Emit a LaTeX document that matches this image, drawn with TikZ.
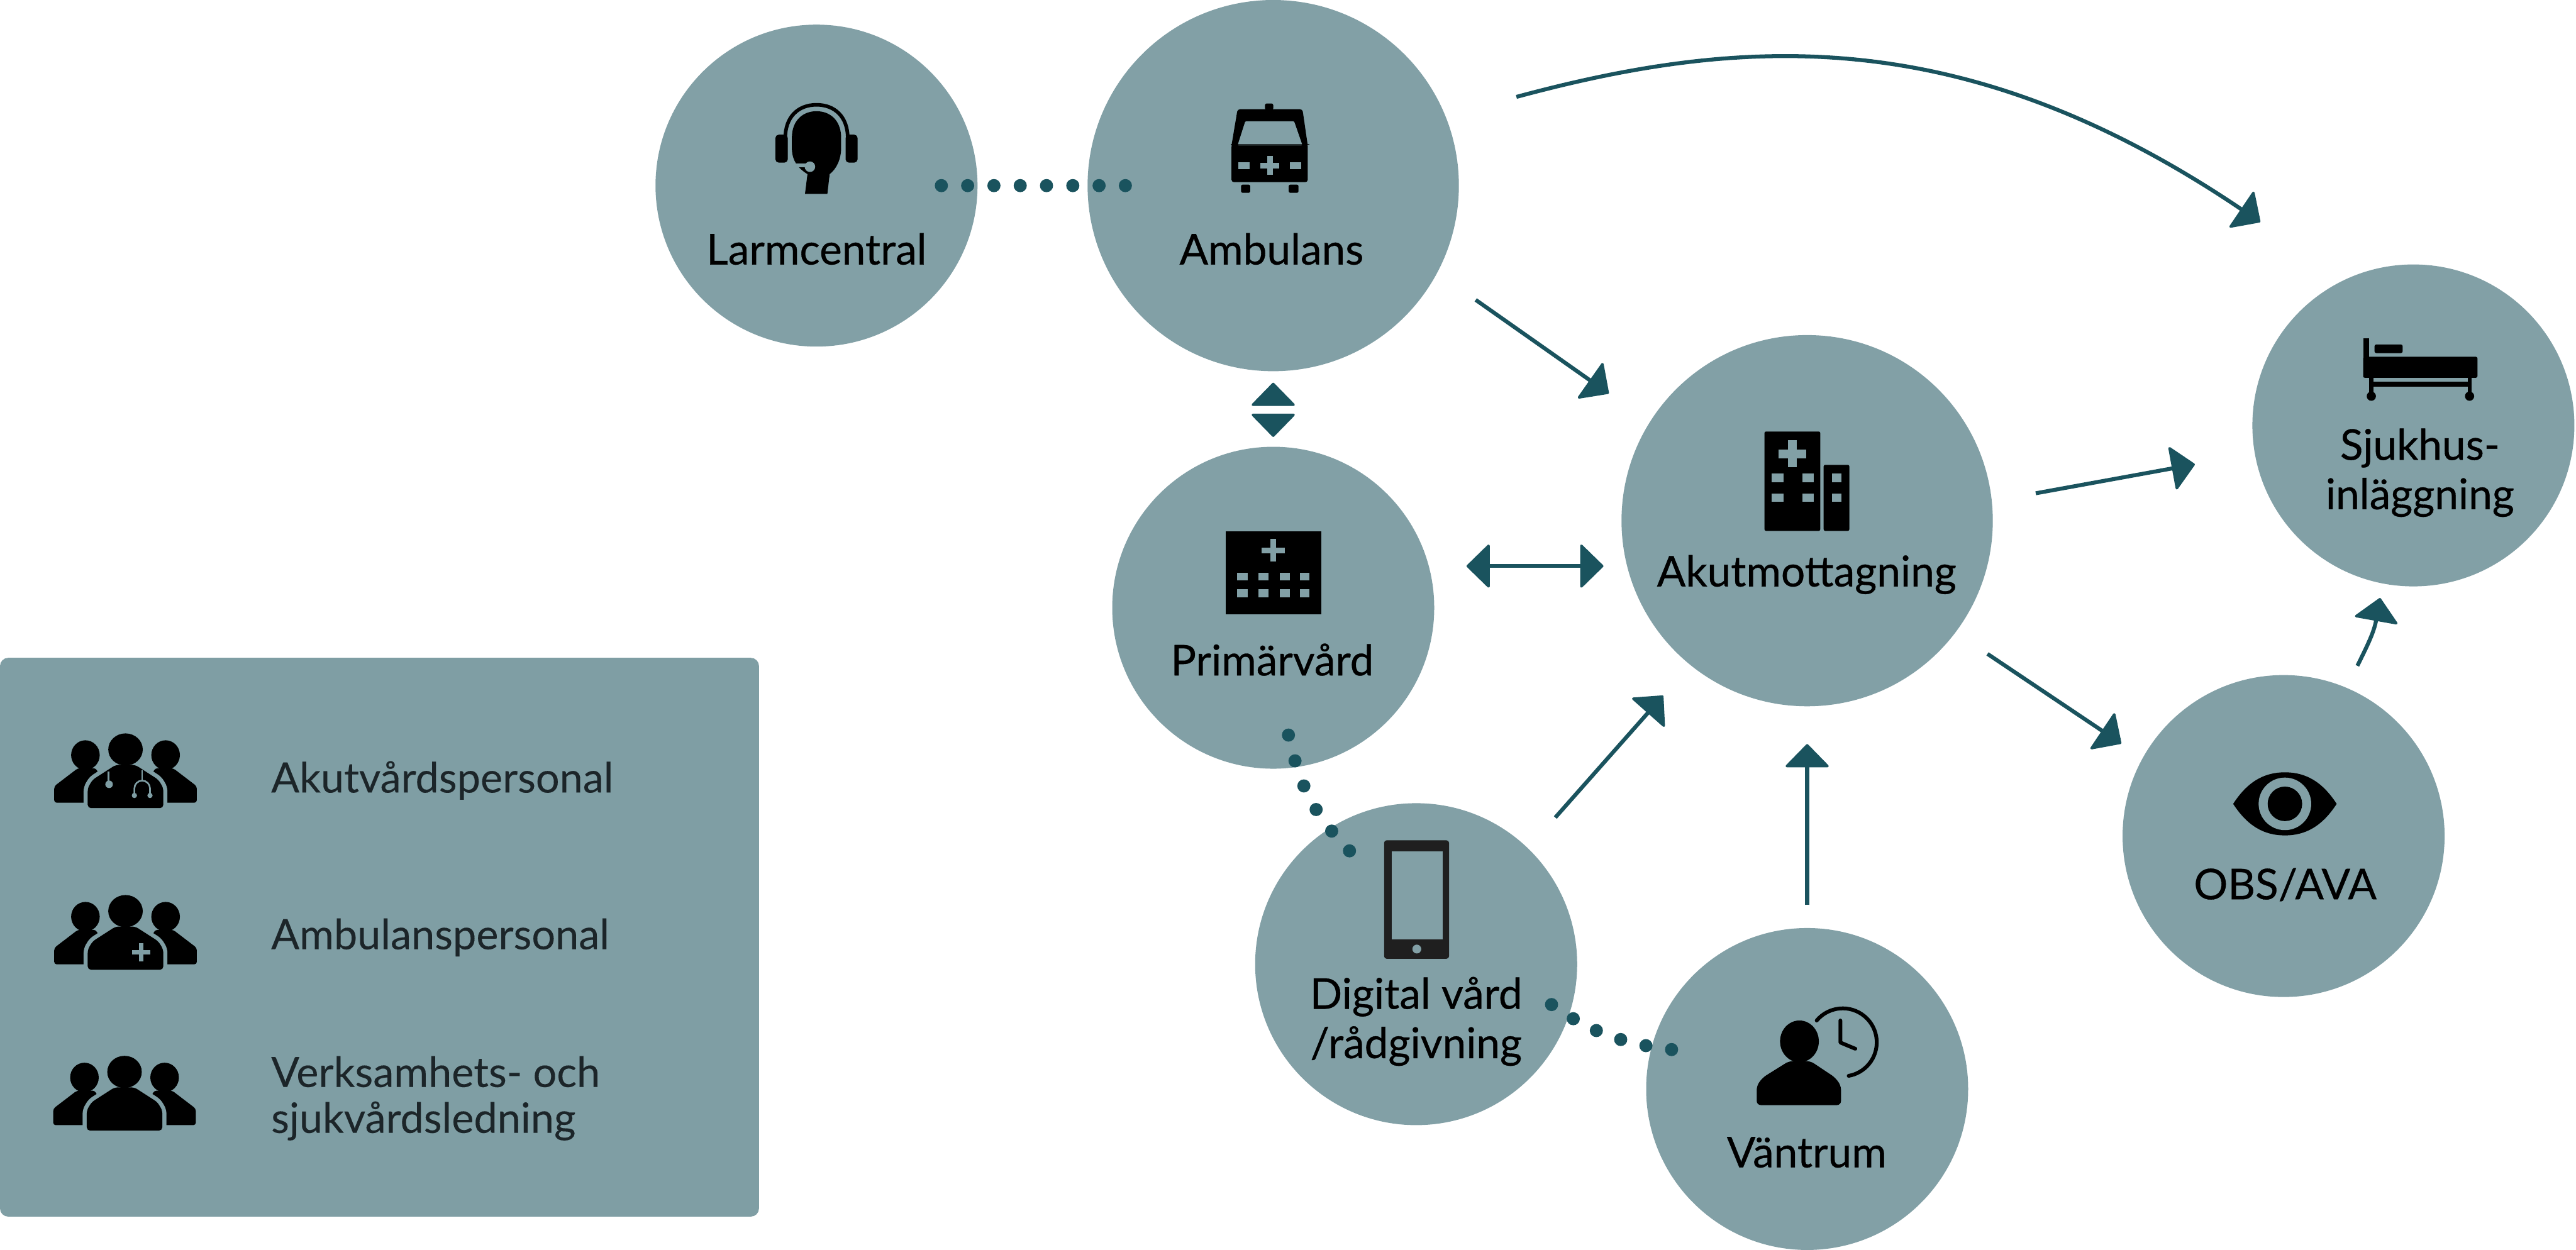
\documentclass[tikz,border=0pt]{standalone}
\usepackage{fontspec}
\usepackage{tikz}
\usetikzlibrary{arrows.meta,calc}
\setmainfont{Lato}[FakeBold=0.12]
\newfontfamily\hubfont[FakeBold=0.5]{Lato}

\definecolor{hubgreen}{HTML}{82A0A6}
\definecolor{legendgreen}{HTML}{7F9EA4}
\definecolor{flowteal}{HTML}{1A535E}
\definecolor{legendink}{HTML}{1C2529}

\def\px{0.02cm}

\tikzset{
    headtip/.tip={Triangle[length=14.5*\px,width=28*\px,line width=1.5*\px,round]},
    hub/.style={circle, fill=hubgreen, inner sep=0pt, outer sep=0pt, minimum size=#1*\px},
    hublabel/.style={anchor=base, inner sep=0pt, align=center, text=black, font=\hubfont\fontsize{14.7}{17.1}\selectfont},
    legendlabel/.style={anchor=base west, inner sep=0pt, align=left, text=legendink, font=\fontsize{14.5}{15.9}\selectfont},
    flow/.style={draw=flowteal, line width=2.4*\px, -headtip},
    gap/.style 2 args={shorten <=#1*\px, shorten >=#2*\px},
    dotlink/.style={draw=flowteal, line width=8*\px, line cap=round, dash pattern=on 0pt off #1*\px},
}

% Group of three people, origin at the top of the middle head
\newcommand{\crewicon}[2]{%
  \begin{scope}[shift={(#1,#2)}]
    \fill (-24.4,13) ellipse (8.7 and 9);
    \fill (24.4,13) ellipse (8.7 and 9);
    \fill[rounded corners=1.5*\px] (-43.4,42) -- (-43.4,32) -- (-29,21) -- (-18,21) -- (-8,42) -- cycle;
    \fill[rounded corners=1.5*\px] (43.4,42) -- (43.4,32) -- (29,21) -- (18,21) -- (8,42) -- cycle;
    \fill[rounded corners=2*\px, preaction={draw=legendgreen, line width=5*\px}]
        (-23,45.3) -- (-23,33) -- (-20,28) -- (-6,19) -- (6,19) -- (20,28) -- (23,33) -- (23,45.3) -- cycle;
    \fill (0,9.6) ellipse (10.5 and 9.8);
  \end{scope}}

\begin{document}
\begin{tikzpicture}[x=\px, y=-\px, >=Stealth]
    \useasboundingbox (0,0) rectangle (1568,760.7);

    % Legend panel
    \fill[legendgreen, rounded corners=5*\px] (0,400.5) rectangle (462,740.7);

    % Circles
    \node[hub=196] (larm) at (497,113) {};
    \node[hub=226] (amb) at (775,113) {};
    \node[hub=196] (prim) at (775,370) {};
    \node[hub=226] (akut) at (1100,317) {};
    \node[hub=196] (sjuk) at (1469,259) {};
    \node[hub=196] (obs) at (1390,509) {};
    \node[hub=196] (dig) at (862,587) {};
    \node[hub=196] (vant) at (1100,663) {};

    % Circle labels
    \node[hublabel] (larmtext) at (497,161) {Larmcentral};
    \node[hublabel] (ambtext) at (774,161) {Ambulans};
    \node[hublabel] (primtext) at (774.4,411.2) {Primärvård};
    \node[hublabel] (akuttext) at (1099.7,357) {Akutmottagning};
    \node[hublabel] (sjuktext) at (1473,310) {Sjukhus-\\inläggning};
    \node[hublabel] (obstext) at (1391,547.5) {OBS/AVA};
    \node[hublabel] (digtext) at (862,644.2) {Digital vård\\/rådgivning};
    \node[hublabel] (vanttext) at (1099.7,710.7) {Väntrum};

    % Dotted links
    \draw[dotlink=16, shorten <=-22*\px, shorten >=-23.5*\px] (larm.east) -- (amb.west);
    \draw[dotlink=16.2, shorten <=-20*\px, shorten >=-18.5*\px]
        (prim.-82.7) .. controls (791.4,479.4) and (799.6,495.5) .. (dig.123.1);
    \draw[dotlink=15.8, shorten <=-12.6*\px, shorten >=-14*\px]
        (dig.-19.1) .. controls (968.4,628.7) and (988.9,635.8) .. (vant.165.9);

    % Arrows
    \draw[flow, gap={44.8}{62.5}] (amb.22) .. controls (1060,22) and (1195,13) .. (sjuk.115.9);
    \draw[flow, gap={28.7}{30.5}] (amb.-28.3) -- (akut.148.3);
    \draw[flow, gap={27.2}{37.1}] (akut.6.9) -- (sjuk.190.6);
    \draw[flow, gap={23.5}{15.8}] (akut.-37.7) -- (obs.151.1);
    \draw[flow, gap={25.1}{25}] (dig.46.9) -- (akut.231.6);
    \draw[flow, gap={14}{23}] (vant.90) -- (akut.-90);
    \draw[flow, gap={15}{9}] (obs.67) .. controls (1441,393) and (1445,385) .. (sjuk.259);
    \draw[flow, headtip-headtip, gap={23}{11}] (prim.15) -- (prim.15 -| akut.west);
    \draw[draw=white, line width=2.3*\px, {Triangle[length=14.5*\px,width=28*\px,line width=1.5*\px,round,color=flowteal]}-{Triangle[length=14.5*\px,width=28*\px,line width=1.5*\px,round,color=flowteal]}, gap={7}{6}]
        (amb.-90) -- (prim.90);

    % Headset
    \fill (482,84) .. controls (482,73) and (489,67.7) .. (497,67.7) .. controls (505,67.7) and (512,73) .. (512,84)
        -- (512,90) .. controls (512,97) and (509,103) .. (505,106) -- (503.6,118) -- (490,118) -- (491.5,106)
        .. controls (485,102) and (482,97) .. (482,90) -- cycle;
    \draw[line width=2.2*\px] (478,84) .. controls (478,71) and (486,63.8) .. (497,63.8) .. controls (508,63.8) and (516,71) .. (516,84);
    \fill[rounded corners=2*\px] (472,82) rectangle (479.5,99);
    \fill[rounded corners=2*\px] (514.7,82) rectangle (522,99);
    \draw[hubgreen, line width=2.4*\px] (482,100.6) -- (491,100.6);
    \fill[hubgreen] (493,101.5) circle (3.2);

    % Ambulance
    \fill[rounded corners=1.5*\px] (753.3,66.5) -- (792.8,66.5) -- (796,88.5) -- (796,110.9) -- (749.6,110.9) -- (749.6,88.5) -- cycle;
    \fill[rounded corners=1*\px] (770,67) -- (770,63) -- (775,63) -- (775,67) -- cycle;
    \fill[hubgreen, rounded corners=0.8*\px] (758,73.8) -- (787.7,73.8) -- (792.8,88.5) -- (753.3,88.5) -- cycle;
    \fill (749,87.6) rectangle (797,88);
    \fill[hubgreen] (753.7,98.6) rectangle (760.8,103.1);
    \fill[hubgreen] (785,98.6) rectangle (792.1,103.1);
    \fill[hubgreen] (767.3,99) rectangle (778.7,102.6);
    \fill[hubgreen] (771.2,95.1) rectangle (774.8,106.5);
    \fill[rounded corners=1*\px] (755.4,112.4) rectangle (761,117.4);
    \fill[rounded corners=1*\px] (784.4,112.4) rectangle (790.4,117.4);

    % Clinic
    \fill (746,323.3) rectangle (804.4,374);
    \fill[hubgreen] (768,333.3) rectangle (782,336.7);
    \fill[hubgreen] (773.3,328) rectangle (776.7,342);
    \fill[hubgreen] (753,348.6) rectangle (759.3,353.4);
    \fill[hubgreen] (766,348.6) rectangle (772,353.4);
    \fill[hubgreen] (779,348.6) rectangle (785,353.4);
    \fill[hubgreen] (791.3,348.6) rectangle (797,353.4);
    \fill[hubgreen] (753,358.8) rectangle (759.3,363.5);
    \fill[hubgreen] (766,358.8) rectangle (772,363.5);
    \fill[hubgreen] (779,358.8) rectangle (785,363.5);
    \fill[hubgreen] (791.3,358.8) rectangle (797,363.5);

    % Hospital
    \fill[rounded corners=1*\px] (1074,262.7) rectangle (1108,323.2);
    \fill[rounded corners=1*\px] (1110,283) rectangle (1125.7,323.2);
    \fill[hubgreen] (1082.6,273.6) rectangle (1099.4,278.9);
    \fill[hubgreen] (1088.4,267.8) rectangle (1093.6,284.6);
    \fill[hubgreen] (1078.3,288.2) rectangle (1085.6,293.6);
    \fill[hubgreen] (1097,288.2) rectangle (1104,293.6);
    \fill[hubgreen] (1115,288.2) rectangle (1121,293.6);
    \fill[hubgreen] (1078.3,300.4) rectangle (1085.6,305.5);
    \fill[hubgreen] (1097,300.4) rectangle (1104,305.5);
    \fill[hubgreen] (1115,300.4) rectangle (1121,305.5);

    % Bed
    \fill (1438.4,206) rectangle (1442,217.5);
    \fill[rounded corners=1*\px] (1438.4,217.2) rectangle (1508,230);
    \fill[rounded corners=1.2*\px] (1445.3,209.7) rectangle (1462.5,215);
    \fill (1442,229) rectangle (1444.6,240);
    \fill (1502,229) rectangle (1504.6,240);
    \fill (1442,232.4) rectangle (1504.6,235.6);
    \fill (1443.4,241.2) circle (2.8);
    \fill (1503.2,241.2) circle (2.8);

    % Eye
    \fill (1359.3,489.4) .. controls (1368,476) and (1378,470.2) .. (1390.8,470.2) .. controls (1403.6,470.2) and (1413.6,476) .. (1422.3,489.4)
        .. controls (1413.6,502.8) and (1403.6,508.6) .. (1390.8,508.6) .. controls (1378,508.6) and (1368,502.8) .. (1359.3,489.4) -- cycle;
    \fill[hubgreen] (1390.8,489.4) circle (16);
    \fill (1390.8,489.4) circle (10.5);

    % Phone
    \fill[black!88, rounded corners=1.5*\px] (842.5,511.6) rectangle (882,583.7);
    \fill[hubgreen] (847,518.5) rectangle (878,572);
    \fill[hubgreen] (862.4,577.8) circle (2.7);

    % Waiting person and clock
    \fill (1095.3,634) ellipse (11.8 and 12.7);
    \fill[rounded corners=2.5*\px] (1069.3,672.8) -- (1069.3,661) -- (1073,656) -- (1089,646) -- (1102,646) -- (1117,656) -- (1120.6,661) -- (1120.6,672.8) -- cycle;
    \draw[line width=2.3*\px, line cap=round] (1105.8,621.3) arc (220:440:20.7);
    \draw[line width=2.3*\px, line cap=round, line join=round] (1120.2,621.3) -- (1120.2,634.7) -- (1129.3,638.5);

    % Legend icons and labels
    \crewicon{76.4}{446.7}
    \draw[legendgreen, line width=1*\px] (66,469.6) -- (66,476.4);
    \fill[legendgreen] (66.4,477.5) circle (2.3);
    \draw[legendgreen, line width=1*\px] (86.5,469) -- (86.5,475.5);
    \draw[legendgreen, line width=1*\px] (81.8,484) -- (81.8,480) arc (180:360:4.75) -- (91.3,484);
    \fill[legendgreen] (81.8,484.3) circle (1.6);
    \fill[legendgreen] (91.3,484.3) circle (1.6);
    \crewicon{76.4}{545.1}
    \fill[legendgreen] (80.5,578.4) rectangle (91.5,581);
    \fill[legendgreen] (84.7,574.2) rectangle (87.3,585.2);
    \crewicon{75.8}{643}

    \node[legendlabel] (medtext) at (164.7,482.5) {Akutvårdspersonal};
    \node[legendlabel] (ambcrew) at (164.7,577.9) {Ambulanspersonal};
    \node[legendlabel] (ledtext) at (164.7,689.7) {Verksamhets- och\\sjukvårdsledning};
\end{tikzpicture}
\end{document}
